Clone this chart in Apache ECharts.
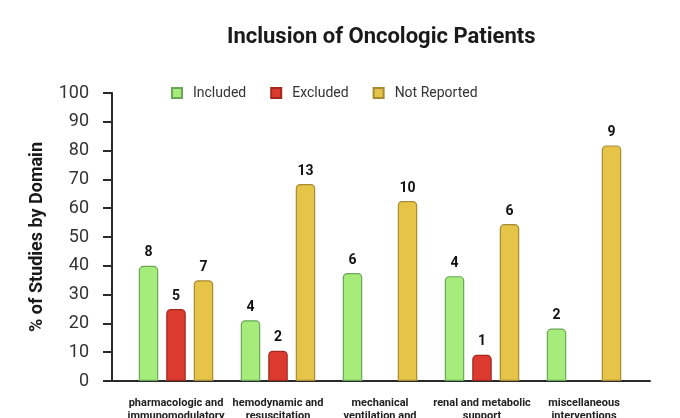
<!DOCTYPE html>
<html>
<head>
<meta charset="utf-8">
<script src="https://cdn.jsdelivr.net/npm/echarts@6/dist/echarts.min.js"></script>
<style>
  html, body { margin: 0; padding: 0; background: #fff; }
  #chart { width: 680px; height: 418px; }
</style>
</head>
<body>
<div id="chart"></div>
<script>
// domains on the x axis (labels are cut at the bottom of the picture)
const categories = [
  'pharmacologic and\nimmunomodulatory',
  'hemodynamic and\nresuscitation',
  'mechanical\nventilation and',
  'renal and metabolic\nsupport',
  'miscellaneous\ninterventions'
]

// % of studies by domain (bar heights)
const includedPct = [40, 21.1, 37.5, 36.4, 18.2]
const excludedPct = [25, 10.5, null, 9.1, null]
const notReportedPct = [35, 68.4, 62.5, 54.5, 81.8]

// number of studies (labels above bars)
const includedN = [8, 4, 6, 4, 2]
const excludedN = [5, 2, null, 1, null]
const notReportedN = [7, 13, 10, 6, 9]

const yTicks = { min: 0, max: 100, interval: 10 }

const FONT = 'Roboto, "Noto Sans", sans-serif'

function barSeries(name, values, counts, color, border) {
  return {
    name: name,
    type: 'bar',
    xAxisIndex: 1,
    yAxisIndex: 1,
    data: values,
    barWidth: 19.5,
    barGap: '41%',
    itemStyle: {
      color: color,
      borderColor: border,
      borderWidth: 1.2,
      borderRadius: [4, 4, 0, 0]
    },
    label: {
      show: true,
      position: 'top',
      distance: 6,
      fontFamily: FONT,
      fontWeight: 'bold',
      fontSize: 14,
      color: '#111',
      formatter: p => counts[p.dataIndex] == null ? '' : String(counts[p.dataIndex])
    }
  }
}

const chart = echarts.init(document.getElementById('chart'))

chart.setOption({
  animation: false,
  backgroundColor: '#fff',
  title: {
    text: 'Inclusion of Oncologic Patients',
    left: 222,
    top: 21,
    textStyle: { fontFamily: FONT, fontWeight: 'bold', fontSize: 22, color: '#1a1a1a' }
  },
  legend: {
    left: 166,
    top: 81,
    itemWidth: 10,
    itemHeight: 10,
    itemGap: 24,
    icon: 'rect',
    textStyle: { fontFamily: FONT, fontSize: 14, color: '#333', padding: [0, 0, 0, 6] },
    data: ['Included', 'Excluded', 'Not Reported']
  },
  grid: [
    // frame with the axis lines
    { left: 112, right: 30, top: 93, bottom: 37, outerBoundsMode: 'none' },
    // bars
    { left: 125, right: 45, top: 93, bottom: 37, outerBoundsMode: 'none' }
  ],
  xAxis: [
    {
      type: 'value', gridIndex: 0, min: 0, max: 1,
      axisLine: { show: true, lineStyle: { color: '#2a2a2a', width: 2 } },
      axisTick: { show: false }, axisLabel: { show: false }, splitLine: { show: false }
    },
    {
      type: 'category', gridIndex: 1, data: categories,
      axisLine: { show: false }, axisTick: { show: false },
      axisLabel: {
        interval: 0, margin: 16,
        fontFamily: FONT, fontWeight: 'bold', fontSize: 11, lineHeight: 13, color: '#222'
      }
    }
  ],
  yAxis: [
    {
      type: 'value', gridIndex: 0,
      min: yTicks.min, max: yTicks.max, interval: yTicks.interval,
      name: '% of Studies by Domain',
      nameLocation: 'middle',
      nameGap: 66,
      nameTextStyle: { fontFamily: FONT, fontWeight: 'bold', fontSize: 18, color: '#1a1a1a' },
      axisLine: { show: true, lineStyle: { color: '#2a2a2a', width: 2 } },
      axisTick: { show: true, length: 9, lineStyle: { color: '#2a2a2a', width: 2 } },
      axisLabel: { margin: 23, fontFamily: FONT, fontSize: 18, color: '#333' },
      splitLine: { show: false }
    },
    {
      type: 'value', gridIndex: 1,
      min: yTicks.min, max: yTicks.max, interval: yTicks.interval,
      show: false
    }
  ],
  series: [
    barSeries('Included', includedPct, includedN, '#a6ec7b', '#6aa657'),
    barSeries('Excluded', excludedPct, excludedN, '#dd3a2f', '#a2291f'),
    barSeries('Not Reported', notReportedPct, notReportedN, '#e6c447', '#a68b34')
  ]
})
</script>
</body>
</html>
